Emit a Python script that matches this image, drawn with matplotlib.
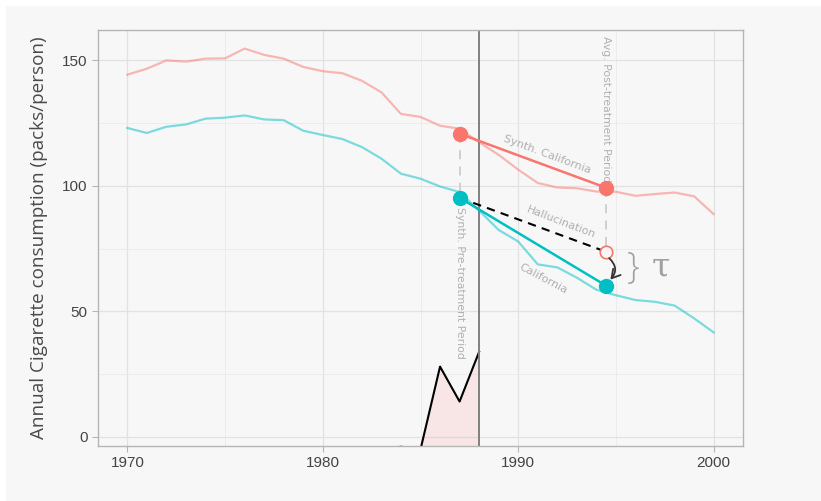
import numpy as np
import matplotlib.pyplot as plt
from matplotlib.patches import FancyArrowPatch, Rectangle
from matplotlib.ticker import MultipleLocator

years = np.arange(1970, 2001)
california = [123.0, 121.0, 123.5, 124.4, 126.7, 127.1, 128.0, 126.4, 126.1, 121.9,
              120.2, 118.6, 115.4, 110.8, 104.8, 102.8, 99.7, 97.5, 90.1, 82.4,
              77.8, 68.7, 67.5, 63.4, 58.6, 56.4, 54.5, 53.8, 52.3, 47.2, 41.6]
synth_california = [144.2, 146.6, 149.9, 149.4, 150.6, 150.7, 154.6, 152.1, 150.6, 147.3,
                    145.6, 144.8, 141.8, 137.2, 128.6, 127.4, 123.9, 122.7, 117.3, 112.3,
                    106.4, 101.1, 99.3, 99.0, 97.7, 97.6, 96.0, 96.7, 97.3, 95.8, 88.7]

# pre-treatment weight curve (sits below the panel floor before 1985)
weight_years = np.arange(1970, 1989)
weight_values = [-5.0] * 14 + [-3.9, -5.0, 28.0, 14.1, 33.9]

# summary points: pre period (1987) and average post period (1994.5)
t_pre, t_post = 1987, 1994.5
synth_pre, synth_post = 120.7, 99.2
ca_pre, ca_post = 95.2, 60.2
halluc_post = 73.7
treat_year = 1988

red = '#F8766D'
cyan = '#00BFC4'
bg = '#f7f7f7'
y_floor = -3.6

fig = plt.figure(figsize=(8.21, 5.01), dpi=100, facecolor='white')
fig.patches.append(Rectangle((6 / 821, 0), 1, 1 - 6 / 501, transform=fig.transFigure,
                             facecolor=bg, edgecolor='none', zorder=-10))
ax = fig.add_axes([98 / 821, 55 / 501, 645 / 821, 416 / 501])
ax.set_facecolor(bg)

ax.set_xlim(1968.5, 2001.5)
ax.set_ylim(y_floor, 162)
ax.xaxis.set_major_locator(MultipleLocator(10))
ax.xaxis.set_minor_locator(MultipleLocator(5))
ax.yaxis.set_major_locator(MultipleLocator(50))
ax.yaxis.set_minor_locator(MultipleLocator(25))
ax.grid(True, which='major', color='#e2e2e2', lw=0.9, zorder=0)
ax.grid(True, which='minor', color='#ececec', lw=0.7, zorder=0)
ax.set_axisbelow(True)
for s in ax.spines.values():
    s.set_color('#b5b5b5')
    s.set_linewidth(1.0)
    s.set_zorder(8)
ax.tick_params(which='major', length=4, color='#b5b5b5', labelcolor='#444444', labelsize=11)
ax.tick_params(which='minor', length=0)
for lab in ax.get_xticklabels() + ax.get_yticklabels():
    lab.set_family('Liberation Sans')

# background trajectories
ax.plot(years, synth_california, color=red, alpha=0.5, lw=1.6, zorder=2)
ax.plot(years, california, color=cyan, alpha=0.5, lw=1.6, zorder=2)

# weights
ax.fill_between(weight_years, weight_values, y_floor, color=red, alpha=0.13, lw=0, zorder=1)
ax.plot(weight_years, weight_values, color='black', lw=1.5, zorder=3)

ax.axvline(treat_year, color='#808080', lw=1.4, zorder=4)

# vertical connectors
ax.plot([t_pre, t_pre], [synth_pre, ca_pre], color='#cccccc', lw=1.3, ls=(0, (5, 4)), zorder=2)
ax.plot([t_post, t_post], [synth_post, halluc_post], color='#cccccc', lw=1.3, ls=(0, (5, 4)), zorder=2)

# summary segments
ax.plot([t_pre, t_post], [synth_pre, synth_post], color=red, lw=1.8, zorder=5)
ax.plot([t_pre, t_post], [ca_pre, ca_post], color=cyan, lw=1.8, zorder=5)
ax.plot([t_pre, t_post], [ca_pre, halluc_post], color='black', lw=1.5, ls=(0, (4, 3)), zorder=5)

ax.plot([t_pre, t_post], [synth_pre, synth_post], 'o', color=red, ms=10, zorder=6)
ax.plot([t_pre, t_post], [ca_pre, ca_post], 'o', color=cyan, ms=10, zorder=6)
ax.plot([t_post], [halluc_post], 'o', mfc=bg, mec=red, mew=1.2, ms=9, zorder=6)

arrow = FancyArrowPatch((t_post + 0.05, halluc_post - 1.8), (t_post + 0.12, ca_post + 1.6),
                        connectionstyle='arc3,rad=-0.55',
                        arrowstyle='->,head_length=6,head_width=3.5',
                        color='#333333', lw=1.3, zorder=7)
ax.add_patch(arrow)

lbl = dict(color='#b0b0b0', fontsize=8, ha='center', va='center', zorder=4)
ax.text(1991.5, 112.6, 'Synth. California', rotation=-20.5, **lbl)
ax.text(1992.2, 85.5, 'Hallucination', rotation=-21, **lbl)
ax.text(1991.3, 62.8, 'California', rotation=-28, **lbl)
ax.text(t_post, 159.5, 'Avg. Post-treatment Period', rotation=270, ha='center', va='top',
        color='#b0b0b0', fontsize=7.8, zorder=4)
ax.text(t_pre, 91.5, 'Synth. Pre-treatment Period', rotation=270, ha='center', va='top',
        color='#b0b0b0', fontsize=7.8, zorder=4)

ax.text(1995.9, 67.0, '}', color='#a0a0a0', fontsize=26, ha='center', va='center',
        family='Open Sans', fontweight='light')
ax.text(1997.3, 67.5, 'τ', color='#a0a0a0', fontsize=24, ha='center', va='center',
        family='DejaVu Serif')

ax.set_ylabel('Annual Cigarette consumption (packs/person)', family='Open Sans',
              fontsize=13.6, color='#4a4a4a', labelpad=10)

fig.savefig('out.png', dpi=100, facecolor=fig.get_facecolor())
